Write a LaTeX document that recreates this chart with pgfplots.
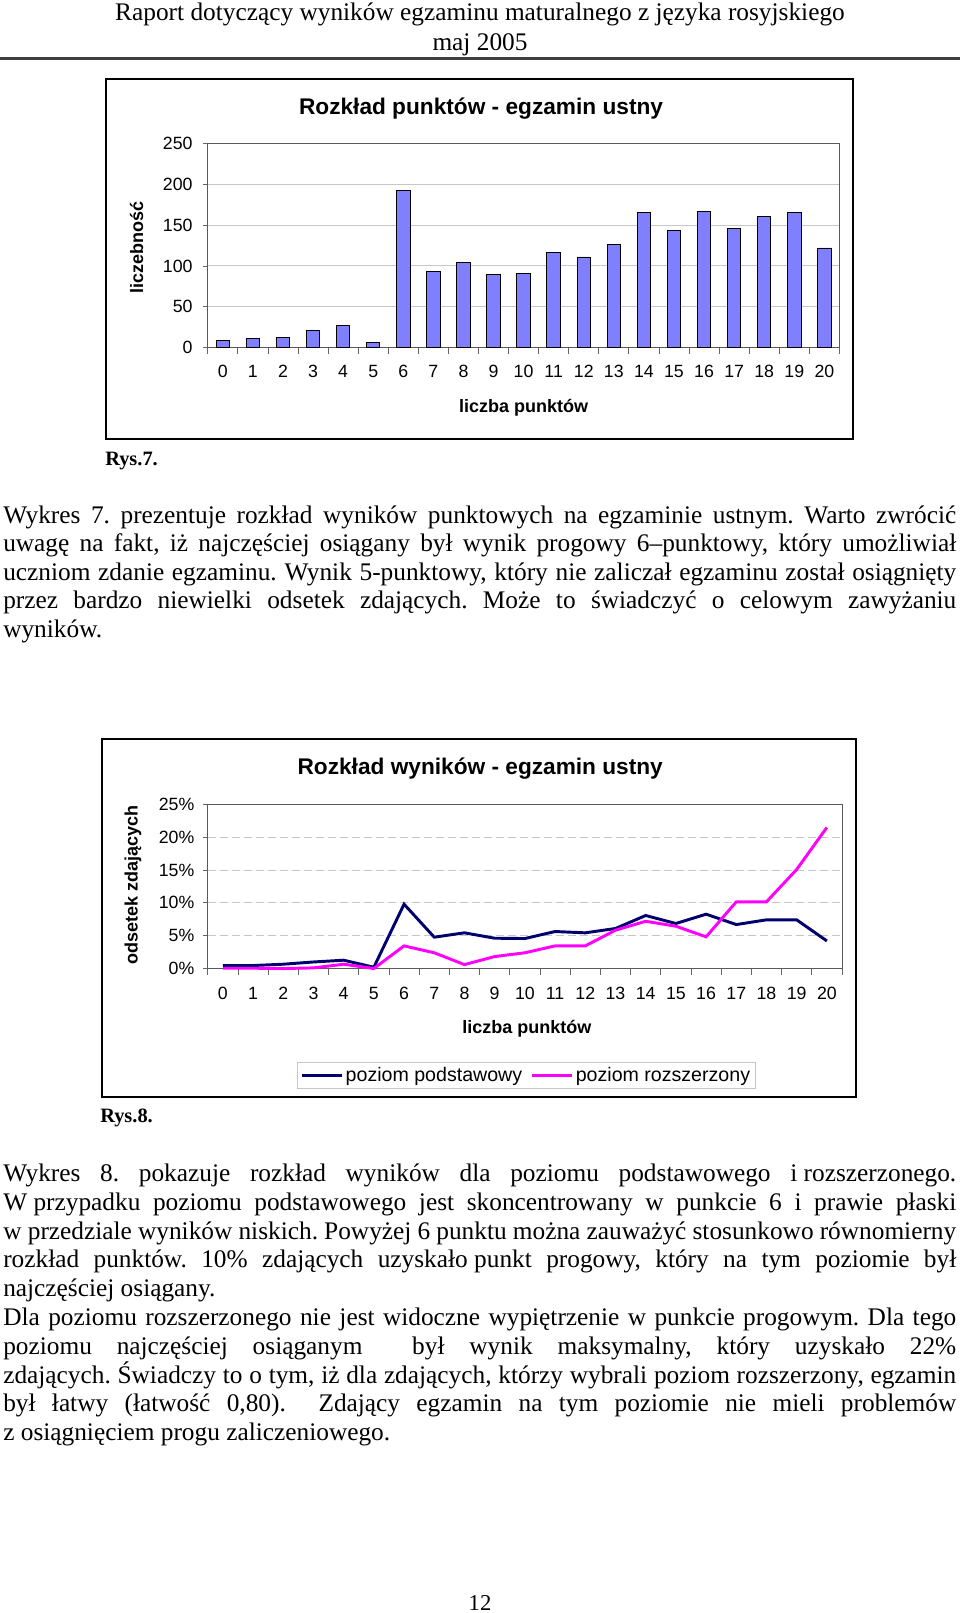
\documentclass[border=0pt]{standalone}
\usepackage{fontspec}
\setmainfont{Liberation Serif}
\newfontfamily\arial{Liberation Sans}
\usepackage{pgfplots}
\pgfplotsset{compat=1.18}
\definecolor{barblue}{RGB}{128,128,255}
\definecolor{navyline}{RGB}{0,0,110}
\definecolor{magline}{RGB}{255,0,255}
\newcommand\bodyfont{\fontsize{19}{22}\selectfont\frenchspacing}
\newcommand\titlefont{\arial\bfseries\fontsize{17}{20}\selectfont}
\newcommand\labfont{\arial\bfseries\fontsize{13.5}{16}\selectfont}
\newcommand\tickfont{\arial\fontsize{13.3}{15}\selectfont}
\newcommand\legfont{\arial\fontsize{14.7}{17}\selectfont}
\newcommand\jline[2]{\node[anchor=base west, inner sep=0pt] at (3,#1) {\bodyfont\makebox[714.75pt][s]{#2}};}
\newcommand\lline[2]{\node[anchor=base west, inner sep=0pt] at (3,#1) {\bodyfont #2};}
\begin{document}
\frenchspacing
\begin{tikzpicture}
\useasboundingbox (0pt,0pt) rectangle (720pt,-1209.75pt);
\begin{scope}[x=0.75pt,y=-0.75pt]
% header
\node[anchor=base, inner sep=0pt] at (480,21) {\bodyfont Raport dotyczący wyników egzaminu maturalnego z języka rosyjskiego};
\node[anchor=base, inner sep=0pt] at (480,50) {\bodyfont maj 2005};
\draw[line width=1.9pt, black!75] (0,58.7) -- (960,58.7);
% frames
\draw[line width=1.6pt] (106,79) rectangle (853,439);
\draw[line width=1.6pt] (102,739) rectangle (856,1097);
% captions
\node[anchor=base west, inner sep=0pt] at (105,465) {\bfseries\fontsize{15.3}{18}\selectfont Rys.7.};
\node[anchor=base west, inner sep=0pt] at (100,1122) {\bfseries\fontsize{15.3}{18}\selectfont Rys.8.};
% paragraph 1
\jline{523}{Wykres 7. prezentuje rozkład wyników punktowych na egzaminie ustnym. Warto zwrócić}
\jline{551.6}{uwagę na fakt, iż najczęściej osiągany był wynik progowy 6–punktowy, który umożliwiał}
\jline{580.2}{uczniom zdanie egzaminu. Wynik 5-punktowy, który nie zaliczał egzaminu został osiągnięty}
\jline{608.8}{przez bardzo niewielki odsetek zdających. Może to świadczyć o celowym zawyżaniu}
\lline{637.4}{wyników.}
% paragraph 2
\jline{1181.5}{Wykres 8. pokazuje rozkład wyników dla poziomu podstawowego \mbox{i rozszerzonego.}}
\jline{1210.3}{\mbox{W przypadku} poziomu podstawowego jest skoncentrowany w punkcie 6 i prawie płaski}
\jline{1239.1}{\mbox{w przedziale} wyników niskich. Powyżej 6 punktu można zauważyć stosunkowo równomierny}
\jline{1267.9}{rozkład punktów. 10\% zdających \mbox{uzyskało punkt} progowy, który na tym poziomie był}
\lline{1296.7}{najczęściej osiągany.}
\jline{1325.5}{Dla poziomu rozszerzonego nie jest widoczne wypiętrzenie w punkcie progowym. Dla tego}
\jline{1354.3}{poziomu najczęściej osiąganym\ \ był wynik maksymalny, który uzyskało 22\%}
\jline{1383.1}{zdających. Świadczy to o tym, iż dla zdających, którzy wybrali poziom rozszerzony, egzamin}
\jline{1411.9}{był łatwy (łatwość 0,80).\ \ Zdający egzamin na tym poziomie nie mieli problemów}
\lline{1440.7}{z osiągnięciem progu zaliczeniowego.}
% page number
\node[anchor=base, inner sep=0pt] at (480,1610) {\fontsize{17}{20}\selectfont 12};
\end{scope}

% ---------- Chart 1 ----------
\begin{axis}[
  at={(155.85pt,-260.8pt)}, anchor=south west,
  scale only axis, width=473.7pt, height=153.3pt,
  xmin=-0.5, xmax=20.5, ymin=0, ymax=250,
  xtick={0,...,20},
  minor xtick={-0.5,0.5,...,20.5},
  ytick={0,50,...,250},
  xtick pos=bottom, ytick pos=left,
  major x tick style={draw=none},
  tick align=outside,
  major tick length=3.5pt, minor tick length=4.5pt,
  tick style={gray!80!black, line width=0.6pt},
  axis line style={gray!70!black, line width=0.75pt},
  ymajorgrids, grid style={gray!45, line width=0.75pt},
  tick label style={font=\tickfont},
  /pgf/number format/assume math mode=true,
  xticklabel style={yshift=-6.3pt},
  yticklabel style={xshift=-4.4pt},
  title={Rozkład punktów - egzamin ustny},
  title style={at={(axis description cs:0.4326,1.104)}, anchor=base, font=\titlefont},
  xlabel={liczba punktów},
  xlabel style={at={(axis description cs:0.5,-0.315)}, anchor=base, font=\labfont},
  ylabel={liczebność},
  ylabel style={at={(axis description cs:-0.1129,0.4927)}, anchor=center, font=\labfont},
  ybar, bar width=10.1pt,
  clip=false,
]
\addplot[fill=barblue, draw=black, line width=0.7pt] coordinates {
 (0,9) (1,11) (2,13) (3,21) (4,27) (5,6) (6,192) (7,93) (8,104) (9,90) (10,91)
 (11,116) (12,111) (13,126) (14,166) (15,144) (16,167) (17,146) (18,160) (19,166) (20,122)};
\end{axis}

% ---------- Chart 2 ----------
\begin{axis}[
  at={(155.8pt,-726.4pt)}, anchor=south west,
  scale only axis, width=475.7pt, height=123.1pt,
  xmin=-0.5, xmax=20.5, ymin=0, ymax=25,
  xtick={0,...,20},
  minor xtick={-0.5,0.5,...,20.5},
  ytick={0,5,...,25},
  xtick pos=bottom, ytick pos=left,
  yticklabel={\pgfmathprintnumber{\tick}\%},
  major x tick style={draw=none},
  tick align=outside,
  major tick length=3.5pt, minor tick length=4.5pt,
  tick style={gray!80!black, line width=0.6pt},
  axis line style={gray!70!black, line width=0.75pt},
  ymajorgrids, grid style={gray!45, line width=0.75pt, dash pattern=on 6pt off 3pt},
  tick label style={font=\tickfont},
  /pgf/number format/assume math mode=true,
  xticklabel style={yshift=-7pt},
  yticklabel style={xshift=-3pt},
  title={Rozkład wyników - egzamin ustny},
  title style={at={(axis description cs:0.4296,1.131)}, anchor=base, font=\titlefont},
  xlabel={liczba punktów},
  xlabel style={at={(axis description cs:0.503,-0.396)}, anchor=base, font=\labfont},
  ylabel={odsetek zdających},
  ylabel style={at={(axis description cs:-0.1178,0.509)}, anchor=center, font=\labfont},
  legend columns=2,
  legend style={at={(axis description cs:0.5025,-0.652)}, anchor=center,
    draw=gray!45, line width=0.75pt, font=\legfont, inner xsep=2pt, inner ysep=1.5pt,
    /tikz/every even column/.append style={column sep=4pt}},
  legend image code/.code={\draw[#1, line width=2.2pt] (0pt,0pt) -- (30pt,0pt);},
  clip=false,
]
\addplot[navyline, line width=2.2pt, mark=none] coordinates {
 (0,0.46) (1,0.46) (2,0.66) (3,1.0) (4,1.27) (5,0.2) (6,9.8) (7,4.78) (8,5.44) (9,4.62) (10,4.57)
 (11,5.64) (12,5.44) (13,6.1) (14,8.08) (15,6.86) (16,8.28) (17,6.7) (18,7.42) (19,7.42) (20,4.2)};
\addlegendentry{poziom podstawowy}
\addplot[magline, line width=2.2pt, mark=none] coordinates {
 (0,0.05) (1,0.05) (2,0) (3,0.1) (4,0.66) (5,0) (6,3.45) (7,2.4) (8,0.6) (9,1.83) (10,2.4)
 (11,3.45) (12,3.45) (13,5.84) (14,7.2) (15,6.45) (16,4.83) (17,10.16) (18,10.16) (19,15.1) (20,21.5)};
\addlegendentry{poziom rozszerzony}
\end{axis}
\end{tikzpicture}
\end{document}
